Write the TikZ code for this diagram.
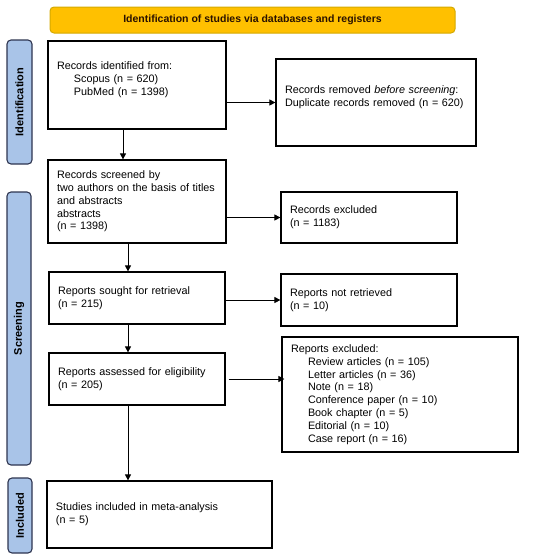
\documentclass[tikz,border=0pt]{standalone}
\usepackage{fontspec}
\setmainfont{Liberation Sans}
\usetikzlibrary{positioning,arrows.meta}
\definecolor{headgold}{HTML}{FFC000}
\definecolor{headedge}{HTML}{D4A900}
\definecolor{headtext}{HTML}{2A1200}
\definecolor{sideblue}{HTML}{A9C4E8}
\definecolor{sideedge}{HTML}{2E3550}

\begin{document}
\begin{tikzpicture}[x=1pt, y=-1pt, >={Triangle[length=6pt,width=6pt]},
    box/.style={draw, line width=1.2pt, align=left, inner xsep=9pt, font=\fontsize{10.8}{12.8}\selectfont},
    side/.style={draw=sideedge, fill=sideblue, line width=1.1pt, rounded corners=4pt, rotate=90, font=\fontsize{11}{13}\selectfont\bfseries},
    link/.style={->, line width=0.8pt}]
    \useasboundingbox (0,0) rectangle (550,558);

    % header and phases
    \node[draw=headedge, fill=headgold, line width=1pt, rounded corners=4pt, minimum width=405pt, minimum height=26pt,
          text=headtext, font=\fontsize{10.5}{12.7}\selectfont\bfseries] (head) at (252.5,20) {Identification of studies via databases and registers};
    \node[side, minimum width=124pt, minimum height=25pt] (phaseid) at (19.5,102) {Identification};
    \node[side, minimum width=273pt, minimum height=24pt] (phasesc) at (19,328.5) {Screening};
    \node[side, minimum width=75pt, minimum height=24pt] (phasein) at (20,515.5) {Included};

    % boxes
    \node[box, minimum width=176pt, text width=160pt, minimum height=88pt] (ident) at (137,85)
        {Records identified from:\\ \hspace*{17pt}Scopus (n = 620)\\ \hspace*{17pt}PubMed (n = 1398)\\ ~};
    \node[box, minimum width=196pt, text width=182pt, minimum height=87pt] (removed) at (376,102.5)
        {Records removed \emph{before screening}:\\ Duplicate records removed (n = 620)\\ ~};
    \node[box, minimum width=176pt, text width=160pt, minimum height=83pt] (screened) at (137,201.5)
        {Records screened by\\ two authors on the basis of titles\\ and abstracts\\ abstracts\\ (n = 1398)};
    \node[box, minimum width=176pt, text width=158pt, minimum height=51pt] (excluded) at (369,217.5)
        {Records excluded\\ (n = 1183)};
    \node[box, minimum width=176pt, text width=158pt, minimum height=52pt] (sought) at (137,298)
        {Reports sought for retrieval\\ (n = 215)};
    \node[box, minimum width=176pt, text width=158pt, minimum height=52pt] (notret) at (369,300)
        {Reports not retrieved\\ (n = 10)};
    \node[box, minimum width=176pt, text width=158pt, minimum height=52pt] (assessed) at (137,379)
        {Reports assessed for eligibility\\ (n = 205)};
    \node[box, minimum width=236pt, text width=218pt, minimum height=115pt] (repexcl) at (400,394.5)
        {Reports excluded:\\ \hspace*{17pt}Review articles (n = 105)\\ \hspace*{17pt}Letter articles (n = 36)\\
         \hspace*{17pt}Note (n = 18)\\ \hspace*{17pt}Conference paper (n = 10)\\ \hspace*{17pt}Book chapter (n = 5)\\
         \hspace*{17pt}Editorial (n = 10)\\ \hspace*{17pt}Case report (n = 16)};
    \node[box, minimum width=225pt, text width=207pt, minimum height=67pt] (incl) at (159.5,514.5)
        {Studies included in meta-analysis\\ (n = 5)};

    % arrows
    \draw[link] ([xshift=-14pt]ident.south) -- ([xshift=-14pt]ident.south |- screened.north);
    \draw[link] (removed.west -| ident.east) -- (removed.west);
    \draw[link] (excluded.west -| screened.east) -- (excluded.west);
    \draw[link] ([xshift=-9pt]screened.south) -- ([xshift=-9pt]screened.south |- sought.north);
    \draw[link] (notret.west -| sought.east) -- (notret.west);
    \draw[link] ([xshift=-9pt]sought.south) -- ([xshift=-9pt]sought.south |- assessed.north);
    \draw[link] ([xshift=3pt]assessed.east) -- ([xshift=3pt]assessed.east -| repexcl.west);
    \draw[link] ([xshift=-9pt]assessed.south) -- ([xshift=-9pt]assessed.south |- incl.north);
\end{tikzpicture}
\end{document}
